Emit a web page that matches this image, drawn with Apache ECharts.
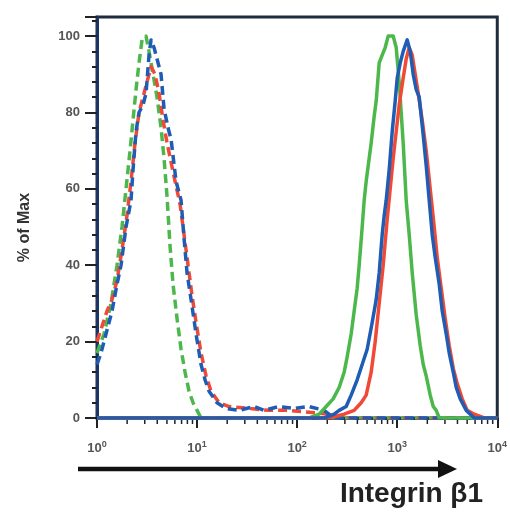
<!DOCTYPE html>
<html>
<head>
<meta charset="utf-8">
<script src="https://cdn.jsdelivr.net/npm/echarts@6/dist/echarts.min.js"></script>
<style>
  html, body { margin: 0; padding: 0; background: #fff; }
  #chart { width: 510px; height: 512px; }
</style>
</head>
<body>
<div id="chart"></div>
<script>
// Flow cytometry overlay: Integrin β1 staining, % of Max vs fluorescence (log scale)

// Isotype / control histograms (dashed)
const ctrlGreenX = [1, 1.175, 1.38, 1.585, 1.778, 1.95, 2.138, 2.291, 2.455, 2.63, 2.818, 3.09, 3.311, 3.631, 3.981, 4.365, 4.677, 5.012, 5.37, 5.754, 6.31, 6.918, 7.586, 8.318, 9.12, 10, 10.96, 10000];
const ctrlGreenY = [17, 22, 30, 40, 50, 60, 70, 78, 86, 93, 99, 100, 96, 90, 84, 76, 68, 58, 45, 35, 26, 18, 12, 7, 4, 2, 0, 0];

const ctrlRedX = [1, 1.122, 1.259, 1.413, 1.585, 1.778, 1.995, 2.188, 2.399, 2.63, 2.884, 3.162, 3.467, 3.802, 4.169, 4.571, 5.012, 5.495, 6.026, 6.761, 7.413, 8.128, 8.913, 9.772, 10.96, 12.3, 13.8, 16.6, 20.89, 33.11, 52.48, 83.18, 131.8, 208.9, 295.1, 10000];
const ctrlRedY = [20, 24, 28, 31, 36, 44, 53, 62, 72, 80, 84, 88, 92, 90, 85, 78, 72, 67, 62, 56, 48, 40, 32, 25, 17, 11, 7, 4, 3, 2.5, 2, 2, 1.5, 1, 0, 0];

const ctrlBlueX = [1, 1.096, 1.23, 1.413, 1.585, 1.738, 1.95, 2.188, 2.291, 2.455, 2.63, 2.884, 3.09, 3.311, 3.467, 3.715, 3.981, 4.365, 4.677, 5.129, 5.495, 6.166, 6.918, 7.413, 7.943, 8.71, 9.772, 10.96, 12.02, 13.18, 15.85, 19.5, 26.3, 37.15, 46.77, 66.07, 93.33, 131.8, 186.2, 234.4, 10000];
const ctrlBlueY = [14, 17, 22, 28, 35, 40, 50, 57, 65, 75, 80, 82, 85, 95, 99, 97, 94, 90, 81, 76, 73, 62, 57, 47, 38, 31, 22, 14, 10, 7, 4, 2.5, 2, 3, 2, 3, 2.5, 3, 2, 0, 0];

// Integrin β1 stained histograms (solid)
const stainGreenX = [1, 131.8, 166, 195, 229.1, 263, 295.1, 316.2, 346.7, 371.5, 398.1, 416.9, 446.7, 467.7, 489.8, 524.8, 549.5, 588.8, 616.6, 660.7, 707.9, 758.6, 812.8, 912, 977.2, 1047, 1096, 1148, 1230, 1318, 1413, 1549, 1698, 1820, 1950, 2138, 2291, 2455, 2630, 10000];
const stainGreenY = [0, 0, 1, 3, 5, 8, 12, 16, 22, 28, 34, 40, 50, 57, 62, 68, 72, 79, 83, 93, 95, 97, 100, 100, 97, 88, 80, 72, 57, 48, 38, 27, 19, 14, 11, 6, 3, 2, 0, 0];

const stainRedX = [1, 208.9, 295.1, 371.5, 436.5, 489.8, 549.5, 602.6, 660.7, 724.4, 794.3, 851.1, 912, 977.2, 1047, 1148, 1230, 1318, 1413, 1514, 1622, 1778, 1950, 2138, 2344, 2512, 2754, 3020, 3311, 3631, 3981, 4467, 5012, 5888, 7413, 10000];
const stainRedY = [0, 0, 1, 2, 4, 6, 12, 20, 30, 40, 52, 60, 68, 75, 82, 89, 94, 97, 95, 90, 85, 78, 70, 60, 50, 42, 34, 26, 19, 13, 9, 5, 2, 1, 0, 0];

const stainBlueX = [1, 186.2, 234.4, 263, 309, 346.7, 398.1, 446.7, 501.2, 562.3, 616.6, 660.7, 707.9, 741.3, 776.2, 831.8, 891.3, 955, 1000, 1072, 1148, 1259, 1349, 1445, 1549, 1660, 1820, 1950, 2089, 2239, 2399, 2630, 2818, 3090, 3311, 3631, 3890, 4266, 4898, 5888, 10000];
const stainBlueY = [0, 0, 1, 2, 3, 6, 10, 14, 18, 25, 31, 38, 48, 53, 57, 65, 75, 83, 89, 93, 96, 99, 96, 90, 86, 84, 74, 66, 57, 48, 42, 35, 28, 22, 17, 12, 8, 5, 2, 0, 0];

// Axis ticks
const yTicks = [0, 20, 40, 60, 80, 100];
const xDecades = [1, 10, 100, 1000, 10000];

const GREEN = '#4cb84c';
const RED = '#f04a36';
const BLUE = '#1f5cb4';
const INK = '#1e2c3c';
const LABEL_FONT = '"Liberation Sans", Arial, sans-serif';

function pairs(xs, ys) {
  return xs.map((x, i) => [x, ys[i]]);
}

// minor log ticks (2..9 within each decade)
const minorTicks = [];
xDecades.slice(0, -1).forEach(d => {
  for (let k = 2; k <= 9; k++) minorTicks.push([d * k, 0]);
});

function histSeries(name, xs, ys, color, dashed) {
  return {
    name: name,
    type: 'line',
    data: pairs(xs, ys),
    showSymbol: false,
    symbol: 'none',
    clip: true,
    lineStyle: {
      color: color,
      width: 3.5,
      type: dashed ? [9, 5] : 'solid',
      cap: 'butt',
      join: 'round'
    },
    z: 3
  };
}

const chart = echarts.init(document.getElementById('chart'), null, { renderer: 'canvas' });

chart.setOption({
  animation: false,
  backgroundColor: '#ffffff',
  grid: {
    left: 97, right: 11, top: 17, bottom: 94,
    show: true,
    borderColor: INK,
    borderWidth: 3,
    backgroundColor: 'transparent'
  },
  xAxis: {
    type: 'log',
    logBase: 10,
    min: 1,
    max: 10000,
    axisLine: { show: true, onZero: false, lineStyle: { color: '#1b3566', width: 3 } },
    axisTick: { show: true, length: 10, inside: false, lineStyle: { color: '#222', width: 2 } },
    splitLine: { show: false },
    axisLabel: {
      margin: 22,
      formatter: v => '{b|10}{s|' + Math.round(Math.log10(v)) + '}',
      rich: {
        b: { fontSize: 13, fontWeight: 'bold', color: '#555', fontFamily: LABEL_FONT },
        s: { fontSize: 9, fontWeight: 'bold', color: '#555', fontFamily: LABEL_FONT, padding: [0, 0, 8, 0] }
      }
    }
  },
  yAxis: {
    type: 'value',
    min: 0,
    max: 105,
    interval: 20,
    name: '% of Max',
    nameLocation: 'middle',
    nameGap: 64,
    nameRotate: 90,
    nameTextStyle: { fontSize: 16, fontWeight: 'bold', color: '#333', fontFamily: LABEL_FONT, padding: [0, 20, 0, 0] },
    axisLine: { show: true, lineStyle: { color: '#1b3566', width: 3 } },
    axisTick: { show: true, length: 12, inside: false, lineStyle: { color: '#222', width: 2 } },
    minorTick: { show: true, splitNumber: 5, length: 5, lineStyle: { color: '#222', width: 2 } },
    splitLine: { show: false },
    minorSplitLine: { show: false },
    axisLabel: {
      showMaxLabel: false,
      margin: 17,
      fontSize: 13,
      fontWeight: 'bold',
      color: '#555',
      fontFamily: LABEL_FONT
    }
  },
  series: [
    histSeries('Control A', ctrlGreenX, ctrlGreenY, GREEN, true),
    histSeries('Control B', ctrlRedX, ctrlRedY, RED, true),
    histSeries('Control C', ctrlBlueX, ctrlBlueY, BLUE, true),
    histSeries('Integrin β1 A', stainGreenX, stainGreenY, GREEN, false),
    histSeries('Integrin β1 B', stainRedX, stainRedY, RED, false),
    histSeries('Integrin β1 C', stainBlueX, stainBlueY, BLUE, false),
    {
      name: 'minor ticks',
      type: 'custom',
      data: minorTicks,
      clip: false,
      silent: true,
      z: 5,
      renderItem: (params, api) => {
        const p = api.coord([api.value(0), 0]);
        return {
          type: 'line',
          shape: { x1: p[0], y1: p[1] + 2, x2: p[0], y2: p[1] + 6 },
          style: { stroke: '#222', lineWidth: 1.5 }
        };
      }
    }
  ],
  graphic: [
    {
      type: 'line',
      shape: { x1: 78, y1: 469, x2: 442, y2: 469 },
      style: { stroke: '#111', lineWidth: 4.5 }
    },
    {
      type: 'polygon',
      shape: { points: [[438, 460], [457, 469], [438, 478]] },
      style: { fill: '#111' }
    },
    {
      type: 'text',
      style: {
        text: 'Integrin β1',
        x: 483,
        y: 494,
        align: 'right',
        verticalAlign: 'middle',
        font: 'bold 28px "Liberation Sans", Arial, sans-serif',
        fill: '#222'
      }
    }
  ]
});
</script>
</body>
</html>
